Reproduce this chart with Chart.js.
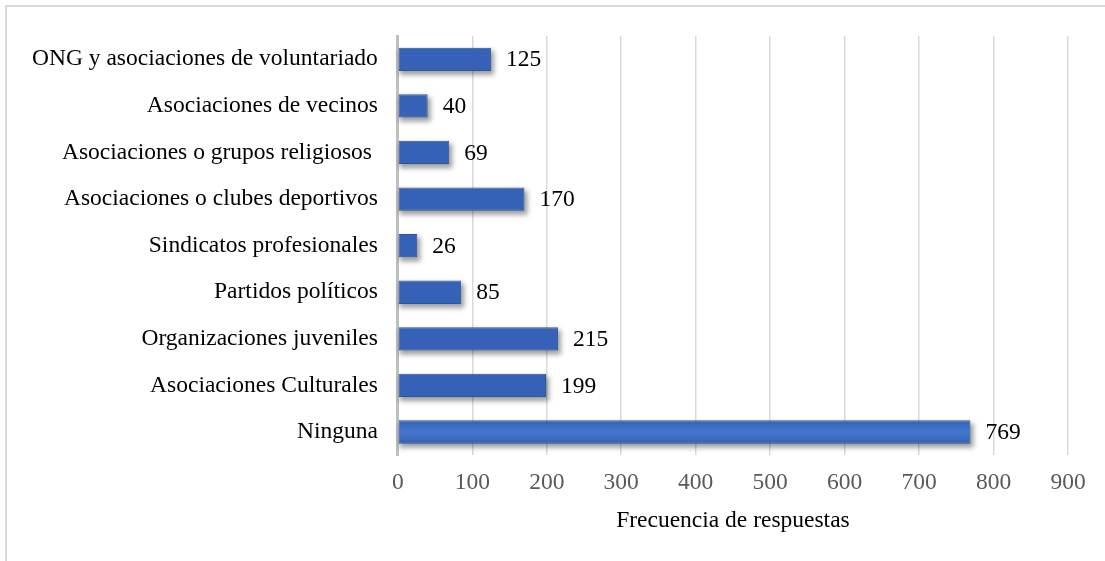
<!DOCTYPE html>
<html>
<head>
<meta charset="utf-8">
<script src="https://cdn.jsdelivr.net/npm/chart.js@4.4.1/dist/chart.umd.min.js"></script>
<style>
  html, body { margin: 0; padding: 0; background: #fff; }
  #wrap { width: 1105px; height: 561px; }
</style>
</head>
<body>
<div id="wrap"><canvas id="chart"></canvas></div>
<script>
const categorias = [
  "ONG y asociaciones de voluntariado",
  "Asociaciones de vecinos",
  "Asociaciones o grupos religiosos ",
  "Asociaciones o clubes deportivos",
  "Sindicatos profesionales",
  "Partidos políticos",
  "Organizaciones juveniles",
  "Asociaciones Culturales",
  "Ninguna"
]
const respuestas = [125, 40, 69, 170, 26, 85, 215, 199, 769]
const ejeX = { min: 0, max: 900, paso: 100 }
const tituloEjeX = "Frecuencia de respuestas"

const fuente = "'Liberation Serif', 'Times New Roman', serif"
const tam = 23.5

// marco gris alrededor del grafico
const marco = {
  id: "marco",
  afterDraw(chart) {
    const c = chart.ctx
    c.save()
    c.strokeStyle = "#d9d9d9"
    c.lineWidth = 2
    c.strokeRect(6, 6, chart.width + 20, chart.height + 20)
    c.restore()
  }
}

// sombra y degradado de las barras
const barras = {
  id: "barras",
  beforeDatasetsDraw(chart) {
    const c = chart.ctx
    const meta = chart.getDatasetMeta(0)
    c.save()
    c.fillStyle = "rgba(0,0,0,0.38)"
    c.filter = "blur(2.5px)"
    meta.data.forEach(bar => {
      const top = bar.y - bar.height / 2
      c.fillRect(bar.base + 1, top + 3, bar.x - bar.base + 2, bar.height + 1)
    })
    c.restore()
    meta.data.forEach(bar => {
      const top = bar.y - bar.height / 2
      const g = c.createLinearGradient(0, top, 0, top + bar.height)
      g.addColorStop(0, "#3561b6")
      g.addColorStop(0.5, "#4677cf")
      g.addColorStop(1, "#3360b3")
      bar.options.backgroundColor = g
    })
  }
}

// etiquetas con el valor al final de cada barra
const etiquetas = {
  id: "etiquetas",
  afterDatasetsDraw(chart) {
    const c = chart.ctx
    const meta = chart.getDatasetMeta(0)
    c.save()
    c.font = tam + "px " + fuente
    c.fillStyle = "#000"
    c.textAlign = "left"
    c.textBaseline = "middle"
    meta.data.forEach((bar, i) => {
      c.fillText(String(respuestas[i]), bar.x + 15, bar.y + 1)
    })
    c.restore()
  }
}

new Chart(document.getElementById("chart"), {
  type: "bar",
  data: {
    labels: categorias,
    datasets: [{
      data: respuestas,
      backgroundColor: "#4472c4",
      borderColor: "#2f5597",
      borderWidth: 1,
      borderSkipped: false,
      barPercentage: 0.5,
      categoryPercentage: 1
    }]
  },
  options: {
    indexAxis: "y",
    responsive: true,
    maintainAspectRatio: false,
    animation: false,
    layout: { padding: { left: 12, right: 37, top: 36, bottom: 28 } },
    plugins: {
      legend: { display: false },
      tooltip: { enabled: false }
    },
    scales: {
      x: {
        min: ejeX.min,
        max: ejeX.max,
        ticks: {
          stepSize: ejeX.paso,
          color: "#595959",
          font: { family: fuente, size: tam },
          padding: 13
        },
        grid: { color: "#d9d9d9", lineWidth: 1.5, drawTicks: false },
        border: { display: false },
        title: {
          display: true,
          text: tituloEjeX,
          color: "#000",
          font: { family: fuente, size: tam, lineHeight: 1 },
          padding: { top: 0, bottom: 0 }
        }
      },
      y: {
        ticks: {
          color: "#000",
          font: { family: fuente, size: tam },
          padding: 20
        },
        grid: { display: false, drawTicks: false },
        border: { display: true, color: "#bfbfbf", width: 3 }
      }
    }
  },
  plugins: [marco, barras, etiquetas]
})
</script>
</body>
</html>
